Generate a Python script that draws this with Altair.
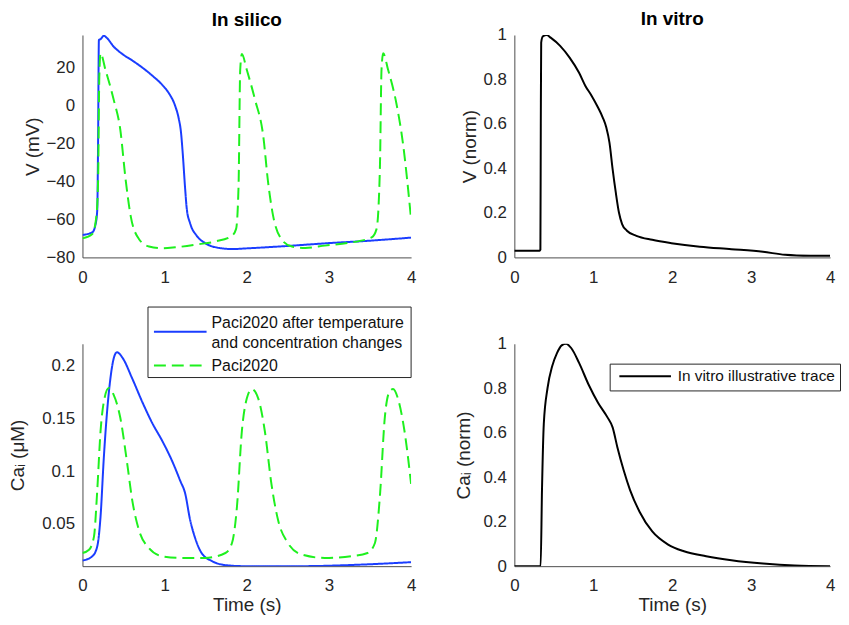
import altair as alt
import pandas as pd

# ---------------- data ----------------
BLUE_NAME = "Paci2020 after temperature and concentration changes"
GREEN_NAME = "Paci2020"
VITRO_NAME = "In vitro illustrative trace"
blue_legend_lines = ["Paci2020 after temperature", "and concentration changes"]

# In silico, membrane potential (mV)
t_v_blue = [0, 0.12, 0.16, 0.18, 0.19, 0.2, 0.22, 0.26, 0.30, 0.38, 0.485, 0.606, 0.727,
            0.848, 0.97, 1.05, 1.13, 1.17, 1.20, 1.22, 1.25, 1.27, 1.31, 1.39, 1.49, 1.66,
            1.82, 2.02, 2.42, 3.03, 3.43, 4.0]
v_blue = [-68.2, -66.8, -62.5, -55, -20, 34.4, 34.8, 36.6, 35.3, 30.9, 27.0, 23.6, 19.9,
          15.7, 10.8, 6.5, -0.5, -6.6, -14.5, -25, -44, -54.6, -62, -68.6, -72.4, -75,
          -75.6, -75.2, -74.2, -72.4, -71.4, -69.6]

t_v_green = [0, 0.12, 0.17, 0.19, 0.205, 0.22, 0.28, 0.38, 0.46, 0.525, 0.586, 0.687, 0.81,
             0.97, 1.13, 1.41, 1.62, 1.82, 1.87, 1.90, 1.92, 1.94, 2.0, 2.10, 2.20, 2.26,
             2.32, 2.42, 2.55, 2.71, 2.95, 3.23, 3.52, 3.58, 3.62, 3.64, 3.66, 3.72, 3.82,
             3.90, 4.0]
v_green = [-70, -67.7, -58, -40, 15, 27.4, 18.7, 3, -12.7, -38.9, -58, -70.3, -74.3,
           -75.2, -74.7, -73.1, -71.6, -68.6, -65, -42, 18.7, 27, 18.7, 3, -16, -40.7,
           -58, -70.3, -74.3, -75, -73.8, -72.4, -69.5, -65, -33.7, 18.7, 27.4, 18.7, 1.2,
           -19.7, -59.9]

# In silico, intracellular calcium (uM)
t_ca_blue = [0, 0.12, 0.18, 0.22, 0.26, 0.30, 0.34, 0.38, 0.42, 0.485, 0.606, 0.727, 0.848,
             0.97, 1.09, 1.19, 1.25, 1.31, 1.37, 1.45, 1.58, 1.74, 1.98, 2.63, 3.43, 4.0]
ca_blue = [0.0153, 0.0194, 0.0288, 0.057, 0.113, 0.157, 0.188, 0.207, 0.213, 0.208, 0.188,
           0.166, 0.146, 0.129, 0.110, 0.091, 0.079, 0.054, 0.037, 0.0225, 0.0147, 0.011,
           0.010, 0.010, 0.0116, 0.0138]

t_ca_green = [0, 0.08, 0.14, 0.18, 0.22, 0.26, 0.32, 0.38, 0.46, 0.545, 0.606, 0.687, 0.81,
              0.97, 1.21, 1.49, 1.74, 1.82, 1.88, 1.94, 2.0, 2.06, 2.14, 2.22, 2.30, 2.38,
              2.50, 2.67, 2.95, 3.27, 3.47, 3.56, 3.62, 3.68, 3.74, 3.78, 3.84, 3.92, 4.0]
ca_green = [0.0225, 0.0256, 0.038, 0.082, 0.138, 0.166, 0.179, 0.1725, 0.151, 0.107, 0.0725,
            0.0444, 0.027, 0.0194, 0.0178, 0.0178, 0.0225, 0.032, 0.066, 0.138, 0.169, 0.178,
            0.169, 0.138, 0.088, 0.054, 0.032, 0.021, 0.0178, 0.0194, 0.0225, 0.032, 0.076,
            0.151, 0.176, 0.178, 0.169, 0.138, 0.088]

# In vitro, normalised traces
t_v_vitro = [0, 0.32, 0.33, 0.335, 0.34, 0.36, 0.41, 0.46, 0.58, 0.70, 0.82, 0.90, 0.98, 1.06,
             1.12, 1.165, 1.205, 1.245, 1.285, 1.325, 1.365, 1.426, 1.546, 1.747, 1.99, 2.35,
             2.75, 3.15, 3.43, 3.75, 4.0]
v_vitro = [0.03, 0.03, 0.035, 0.6, 0.966, 0.993, 1.0, 0.988, 0.951, 0.898, 0.83, 0.771,
           0.726, 0.674, 0.629, 0.584, 0.516, 0.397, 0.292, 0.202, 0.15, 0.12, 0.097, 0.079,
           0.064, 0.048, 0.037, 0.025, 0.012, 0.0075, 0.007]

t_ca_vitro = [0, 0.333, 0.35, 0.373, 0.42, 0.48, 0.54, 0.60, 0.655, 0.72, 0.82, 0.94, 1.06,
              1.18, 1.245, 1.305, 1.385, 1.466, 1.586, 1.747, 1.948, 2.149, 2.43, 2.75, 3.15,
              3.55, 4.0]
ca_vitro = [0, 0, 0.34, 0.64, 0.80, 0.90, 0.958, 0.993, 1.0, 0.981, 0.914, 0.817, 0.735,
            0.669, 0.624, 0.535, 0.431, 0.342, 0.245, 0.156, 0.097, 0.067, 0.045, 0.027,
            0.012, 0.003, 0.0]

# ---------------- tables ----------------
def two_series(t1, y1, t2, y2):
    return pd.DataFrame({
        "t": list(t1) + list(t2),
        "y": list(y1) + list(y2),
        "series": [BLUE_NAME] * len(t1) + [GREEN_NAME] * len(t2),
        "order": list(range(len(t1))) + list(range(len(t2))),
    })

df_v_sil = two_series(t_v_blue, v_blue, t_v_green, v_green)
df_ca_sil = two_series(t_ca_blue, ca_blue, t_ca_green, ca_green)
df_v_vit = pd.DataFrame({"t": t_v_vitro, "y": v_vitro, "series": VITRO_NAME})
df_ca_vit = pd.DataFrame({"t": t_ca_vitro, "y": ca_vitro, "series": VITRO_NAME})

# ---------------- style ----------------
FONT = "Liberation Sans"
BLUE = "#1a3dff"
GREEN = "#1ef01e"
TEXT = "#262626"
W, H = 331, 224
W_R = 318
DASH = [12, 6]

sil_domain = [BLUE_NAME, GREEN_NAME]


def x_axis(with_title):
    return alt.X("t:Q", scale=alt.Scale(domain=[0, 4], nice=False, zero=False),
                 axis=alt.Axis(values=[0, 1, 2, 3, 4], format="d", labelFlush=False,
                               title="Time (s)" if with_title else None))


def silico_lines(df, ydomain, yvalues, ytitle, fmt, tpad, xtitle=False):
    return alt.Chart(df).mark_line(strokeWidth=2, clip=True, interpolate="monotone").encode(
        x=x_axis(xtitle),
        y=alt.Y("y:Q", scale=alt.Scale(domain=ydomain, nice=False, zero=False),
                axis=alt.Axis(values=yvalues, format=fmt, title=ytitle, titlePadding=tpad)),
        color=alt.Color("series:N", scale=alt.Scale(domain=sil_domain, range=[BLUE, GREEN]),
                        sort=sil_domain, legend=None),
        strokeDash=alt.StrokeDash("series:N",
                                  scale=alt.Scale(domain=sil_domain, range=[[1, 0], DASH]),
                                  sort=sil_domain, legend=None),
        order="order:Q",
    ).properties(width=W, height=H)


def blank():
    return alt.Chart(alt.Data(values=[{}]))


def silico_legend():
    box = blank().mark_rect(fill="white", stroke=TEXT, strokeWidth=1).encode(
        x=alt.value(66), x2=alt.value(331), y=alt.value(-37), y2=alt.value(34))
    sym_blue = blank().mark_rule(color=BLUE, strokeWidth=2).encode(
        x=alt.value(72), x2=alt.value(125), y=alt.value(-12))
    sym_green = blank().mark_rule(color=GREEN, strokeWidth=2, strokeDash=DASH).encode(
        x=alt.value(72), x2=alt.value(125), y=alt.value(22))
    txt = dict(align="left", baseline="middle", fontSize=16, font=FONT, color="#111111")
    t1 = blank().mark_text(text=blue_legend_lines[0], **txt).encode(
        x=alt.value(130), y=alt.value(-21))
    t2 = blank().mark_text(text=blue_legend_lines[1], **txt).encode(
        x=alt.value(130), y=alt.value(-1))
    t3 = blank().mark_text(text=GREEN_NAME, **txt).encode(
        x=alt.value(130), y=alt.value(22))
    return [box, sym_blue, sym_green, t1, t2, t3]


def vitro_panel(df, ytitle, tpad, legend=False, xtitle=False):
    leg = None
    if legend:
        leg = alt.Legend(
            title=None, orient="none", legendX=96, legendY=20,
            symbolType="M-5,0H5", symbolSize=108, symbolStrokeWidth=2,
            symbolOffset=23, labelOffset=25,
            labelFontSize=15.5, labelFont=FONT, labelColor="#111111", labelLimit=400,
            padding=5, strokeColor=TEXT, fillColor="white", cornerRadius=0,
        )
    return alt.Chart(df).mark_line(strokeWidth=2, clip=True, interpolate="monotone").encode(
        x=x_axis(xtitle),
        y=alt.Y("y:Q", scale=alt.Scale(domain=[0, 1], nice=False, zero=False),
                axis=alt.Axis(values=[0, 0.2, 0.4, 0.6, 0.8, 1], format="~g", title=ytitle,
                              titlePadding=tpad)),
        color=alt.Color("series:N", scale=alt.Scale(domain=[VITRO_NAME], range=["#000000"]),
                        legend=leg),
    ).properties(width=W_R, height=H)


tl = silico_lines(df_v_sil, [-80, 37], [-80, -60, -40, -20, 0, 20], "V (mV)", "d",
                  3).properties(title=alt.TitleParams("In silico"))
tr = vitro_panel(df_v_vit, "V (norm)", 3).properties(title=alt.TitleParams("In vitro", dy=8))
bl = alt.layer(
    silico_lines(df_ca_sil, [0.01, 0.221], [0.05, 0.1, 0.15, 0.2], "Caᵢ (μM)", "~g", 14,
                 xtitle=True),
    *silico_legend()
).properties(width=W, height=H)
br = vitro_panel(df_ca_vit, "Caᵢ (norm)", 10, legend=True, xtitle=True)

chart = alt.concat(
    tl, tr, bl, br, columns=2,
    spacing=alt.RowColnumber(row=87, column=104), bounds="flush",
).resolve_scale(
    color="independent", strokeDash="independent"
).resolve_legend(
    color="independent", strokeDash="independent"
).properties(
    padding={"left": 0, "top": 0, "right": 0, "bottom": 0}, background="white"
).configure_view(
    stroke=None
).configure_axis(
    grid=False, ticks=False, tickSize=0, domainColor="#4d4d4d", domainWidth=1,
    labelFont=FONT, labelFontSize=17, labelColor=TEXT, labelPadding=8,
    titleFont=FONT, titleFontSize=19, titleFontWeight="normal", titleColor=TEXT,
).configure_axisX(
    labelPadding=12, titlePadding=2
).configure_title(
    font=FONT, fontSize=19, fontWeight="bold", color="#000000", anchor="middle", offset=5
)

chart.save("out.html", embed_options={"renderer": "svg", "actions": False})
